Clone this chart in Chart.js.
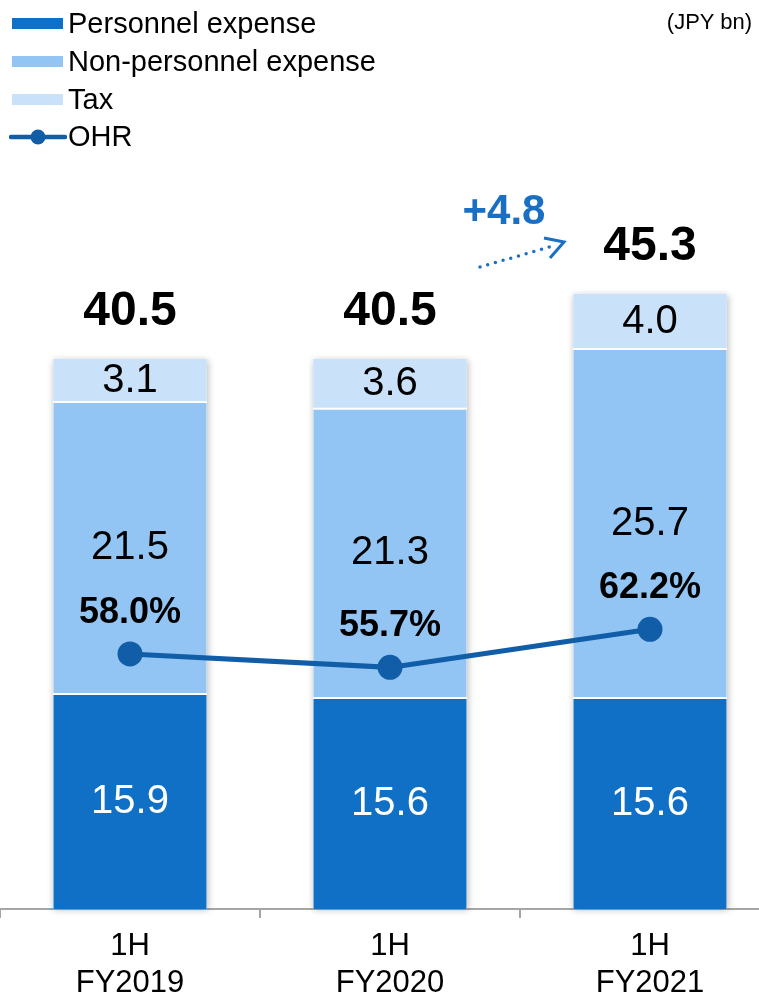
<!DOCTYPE html>
<html>
<head>
<meta charset="utf-8">
<script src="https://cdn.jsdelivr.net/npm/chart.js@4/dist/chart.umd.min.js"></script>
<style>
  body { margin: 0; width: 759px; height: 997px; overflow: hidden; position: relative; background: #fff;
         font-family: "Liberation Sans", Arial, sans-serif; }
  #wrap { position: absolute; left: 0; top: 0; width: 780px; height: 997px; }
  .legend { position: absolute; left: 0; top: 0; }
  .row { position: absolute; left: 10px; height: 38px; width: 420px; }
  .row .mk { position: absolute; left: 2px; width: 51px; height: 11px; top: -6px; }
  .row .tx { position: absolute; left: 58px; top: -18px; font-size: 29px; line-height: 35px; color: #000; white-space: nowrap; }
  .unit { position: absolute; right: 7px; top: 9px; font-size: 22px; color: #000; }
  .delta { position: absolute; left: 504px; top: 210px; transform: translate(-50%, -50%); font-size: 42px;
           font-weight: bold; color: #1A6FC4; }
</style>
</head>
<body>
<div id="wrap"><canvas id="myChart" width="780" height="997"></canvas></div>

<div class="legend">
  <div class="row" style="top:24px"><div class="mk" style="background:#1070C6"></div><div class="tx">Personnel expense</div></div>
  <div class="row" style="top:62px"><div class="mk" style="background:#92C5F4"></div><div class="tx">Non-personnel expense</div></div>
  <div class="row" style="top:100px"><div class="mk" style="background:#C9E2FA"></div><div class="tx">Tax</div></div>
  <div class="row" style="top:137px">
    <svg width="58" height="20" style="position:absolute;left:-1px;top:-10px">
      <line x1="2" y1="10" x2="56" y2="10" stroke="#115DA8" stroke-width="4.5" stroke-linecap="round"/>
      <circle cx="29" cy="10" r="7.5" fill="#115DA8"/>
    </svg>
    <div class="tx">OHR</div>
  </div>
</div>
<div class="unit">(JPY bn)</div>
<div class="delta">+4.8</div>
<svg width="759" height="997" style="position:absolute;left:0;top:0;pointer-events:none">
  <line x1="480" y1="267" x2="553" y2="246" stroke="#1A6FC4" stroke-width="3.5" stroke-linecap="round" stroke-dasharray="0 8"/>
  <polyline points="544,238 564,242 550,258" fill="none" stroke="#1A6FC4" stroke-width="3"/>
</svg>

<script>
const categories = [["1H", "FY2019"], ["1H", "FY2020"], ["1H", "FY2021"]];
const personnel = [15.9, 15.6, 15.6];
const nonPersonnel = [21.5, 21.3, 25.7];
const tax = [3.1, 3.6, 4.0];
const ohr = [58.0, 55.7, 62.2];

const FONT = "'Liberation Sans', Arial, sans-serif";

// white box with soft shadow behind each stack
const stackShadow = {
  id: "stackShadow",
  beforeDatasetsDraw(chart) {
    const ctx = chart.ctx;
    const bottomMeta = chart.getDatasetMeta(0);
    const topMeta = chart.getDatasetMeta(2);
    ctx.save();
    ctx.shadowColor = "rgba(0,0,0,0.28)";
    ctx.shadowBlur = 7;
    ctx.shadowOffsetX = 1;
    ctx.shadowOffsetY = 1;
    ctx.fillStyle = "#fff";
    bottomMeta.data.forEach((bar, i) => {
      const top = topMeta.data[i].y;
      const w = bar.width;
      ctx.fillRect(bar.x - w / 2, top, w, bar.base - top);
    });
    ctx.restore();
  },
};

// numbers on the bars, totals and OHR labels
const valueLabels = {
  id: "valueLabels",
  afterDatasetsDraw(chart) {
    const ctx = chart.ctx;
    ctx.save();
    ctx.textAlign = "center";
    ctx.textBaseline = "middle";
    [0, 1, 2].forEach((d) => {
      const meta = chart.getDatasetMeta(d);
      const values = chart.data.datasets[d].data;
      ctx.font = `40px ${FONT}`;
      ctx.fillStyle = d === 0 ? "#fff" : "#000";
      meta.data.forEach((bar, i) => {
        ctx.fillText(values[i].toFixed(1), bar.x, (bar.y + bar.base) / 2 + 1);
      });
    });
    const topMeta = chart.getDatasetMeta(2);
    ctx.font = `bold 48px ${FONT}`;
    ctx.fillStyle = "#000";
    topMeta.data.forEach((bar, i) => {
      const total = personnel[i] + nonPersonnel[i] + tax[i];
      ctx.fillText(total.toFixed(1), bar.x, bar.y - 47);
    });
    const lineMeta = chart.getDatasetMeta(3);
    ctx.font = `bold 36px ${FONT}`;
    lineMeta.data.forEach((pt, i) => {
      ctx.fillText(ohr[i].toFixed(1) + "%", pt.x, pt.y - 41);
    });
    ctx.restore();
  },
};

const ctx = document.getElementById("myChart").getContext("2d");

new Chart(ctx, {
  type: "bar",
  data: {
    labels: categories,
    datasets: [
      {
        label: "Personnel expense",
        data: personnel,
        backgroundColor: "#1070C6",
        borderColor: "#fff",
        borderWidth: { top: 2 },
        borderSkipped: "start",
        stack: "cost",
        order: 1,
      },
      {
        label: "Non-personnel expense",
        data: nonPersonnel,
        backgroundColor: "#92C5F4",
        borderColor: "#fff",
        borderWidth: { top: 2 },
        borderSkipped: "start",
        stack: "cost",
        order: 1,
      },
      {
        label: "Tax",
        data: tax,
        backgroundColor: "#C9E2FA",
        borderWidth: 0,
        stack: "cost",
        order: 1,
      },
      {
        type: "line",
        label: "OHR",
        data: ohr,
        yAxisID: "y1",
        borderColor: "#115DA8",
        backgroundColor: "#115DA8",
        borderWidth: 5,
        pointRadius: 10,
        pointHoverRadius: 10,
        tension: 0,
        order: 0,
      },
    ],
  },
  options: {
    responsive: false,
    animation: false,
    devicePixelRatio: 1,
    layout: { autoPadding: false, padding: { top: 94, left: 0, right: 0, bottom: 0 } },
    datasets: { bar: { categoryPercentage: 1, barPercentage: 0.59 } },
    plugins: {
      legend: { display: false },
      tooltip: { enabled: false },
    },
    scales: {
      x: {
        stacked: true,
        offset: true,
        afterFit: (scale) => {
          scale.height = 88;
        },
        border: { display: true, color: "#A6A6A6", width: 2 },
        grid: {
          display: true,
          offset: true,
          drawOnChartArea: false,
          drawTicks: true,
          tickLength: 9,
          color: "#A6A6A6",
          lineWidth: 2,
        },
        ticks: {
          color: "#000",
          padding: 10,
          maxRotation: 0,
          font: { family: FONT, size: 31, lineHeight: 1.2 },
        },
      },
      y: {
        stacked: true,
        display: false,
        min: 0,
        max: 60,
      },
      y1: {
        display: false,
        min: 14.4,
        max: 153.7,
      },
    },
  },
  plugins: [stackShadow, valueLabels],
});
</script>
</body>
</html>
